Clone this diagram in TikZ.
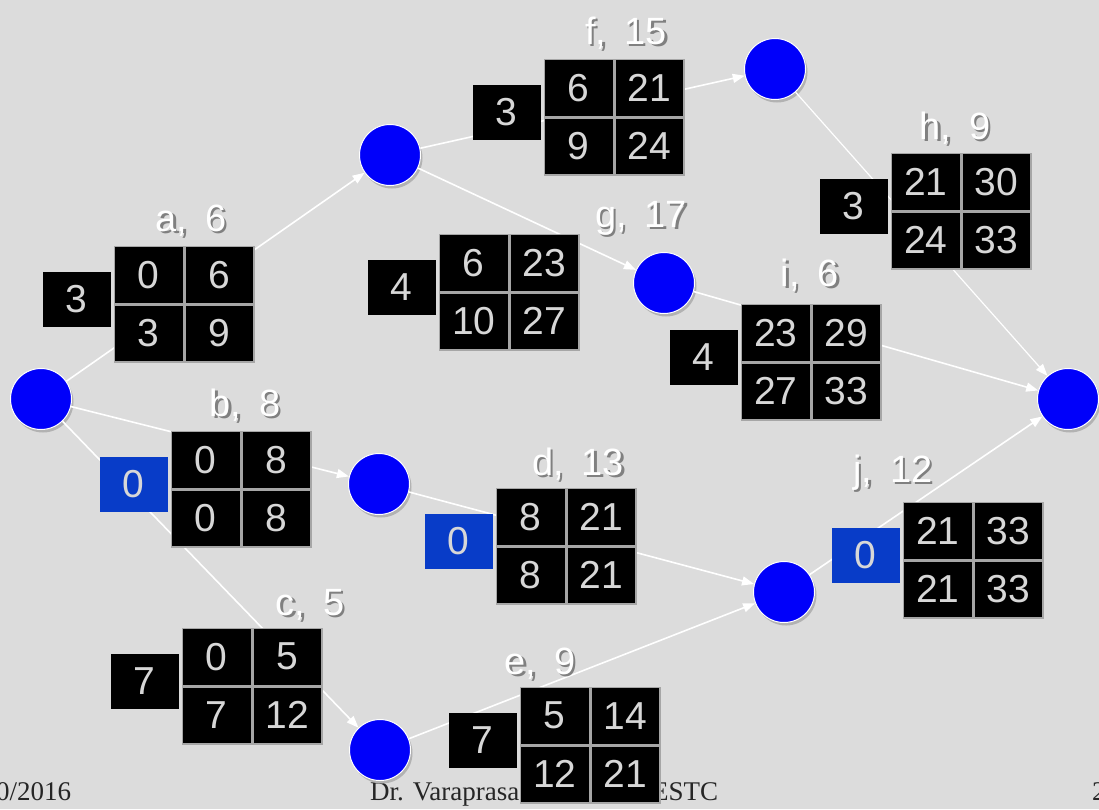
\documentclass[tikz,border=0pt]{standalone}
\usepackage{fontspec}
\setmainfont{Liberation Serif}
\newfontfamily\helv{Liberation Sans}
\newfontfamily\helvlab[WordSpace=1.7]{Liberation Sans}
\usetikzlibrary{arrows.meta,positioning,shadows}
\definecolor{bgray}{RGB}{220,220,220}
\definecolor{nodeblue}{RGB}{0,0,250}
\definecolor{slackblue}{RGB}{8,60,200}
\definecolor{digit}{RGB}{215,215,215}
\tikzset{
  event/.style={circle, fill=nodeblue, draw=white, line width=1pt, minimum size=61pt, inner sep=0pt,
    drop shadow={shadow xshift=2pt, shadow yshift=-3pt, fill=black!30, opacity=1}},
  edge/.style={draw=white, line width=1.6pt, -{Triangle[width=9pt,length=12pt]}},
  cell/.style={fill=black, draw=gray!70, line width=1.5pt, minimum width=69pt, minimum height=57pt,
    inner sep=0pt, text=digit, font=\helv\fontsize{39}{40}\selectfont},
  slackbox/.style={cell, draw=none, minimum width=68pt, minimum height=55pt},
  actlabel/.style={text=white, font=\helvlab\fontsize{38}{40}\selectfont, inner sep=0pt, anchor=base},
  footer/.style={text=black!85, font=\fontsize{27}{28}\selectfont, inner sep=0pt, anchor=base west},
}
\begin{document}
\begin{tikzpicture}[x=1pt, y=-1pt]
  \fill[bgray] (0,0) rectangle (1099,809);
  \useasboundingbox (0,0) rectangle (1099,809);
  % footer
  \node[footer] (date) at (-4,800) {0/2016};
  \node[footer] (author) at (370,800) {Dr. Varaprasad};
  \node[footer] (place) at (652,800) {ESTC};
  \node[footer] (page) at (1092,800) {2};
  % events
  \node[event] (n1) at (41,399) {};
  \node[event] (n2) at (390,155) {};
  \node[event] (n3) at (775,69) {};
  \node[event] (n4) at (664,283) {};
  \node[event] (n5) at (379,484) {};
  \node[event] (n6) at (784,592) {};
  \node[event] (n7) at (380,750) {};
  \node[event] (n8) at (1068,399) {};
  % activities
  \draw[edge] (n1) -- (n2);
  \draw[edge] (n1) -- (n5);
  \draw[edge] (n1) -- (n7);
  \draw[edge] (n2) -- (n3);
  \draw[edge] (n2) -- (n4);
  \draw[edge, line width=1.2pt] (n3) -- (n8);
  \draw[edge] (n4) -- (n8);
  \draw[edge] (n5) -- (n6);
  \draw[edge] (n7) -- (n6);
  \draw[edge] (n6) -- (n8);
  % boxes: name/x/y/label/label x/label y/slack/ES/EF/LS/LF/colour
  \foreach \n/\x/\y/\lab/\lx/\ly/\sl/\es/\ef/\ls/\lf/\col in {
      a/184/304/{a, 6}/191/231/3/0/6/3/9/black,
      b/241/489/{b, 8}/245/416/0/0/8/0/8/slackblue,
      c/252/686/{c, 5}/310/615/7/0/5/7/12/black,
      d/566/546/{d, 13}/578/475/0/8/21/8/21/slackblue,
      e/590/745/{e, 9}/540/674/7/5/14/12/21/black,
      f/614/117/{f, 15}/626/44/3/6/21/9/24/black,
      g/509/292/{g, 17}/641/227/4/6/23/10/27/black,
      h/961/211/{h, 9}/955/139/3/21/30/24/33/black,
      i/811/362/{i, 6}/810/286/4/23/29/27/33/black,
      j/973/560/{j, 12}/893/482/0/21/33/21/33/slackblue} {
    \node[cell, anchor=south east] (\n-es) at (\x,\y) {\es};
    \node[cell, anchor=south west] (\n-ef) at (\x,\y) {\ef};
    \node[cell, anchor=north east] (\n-ls) at (\x,\y) {\ls};
    \node[cell, anchor=north west] (\n-lf) at (\x,\y) {\lf};
    \node[slackbox, fill=\col, anchor=east] (\n-sl) at ([xshift=-2pt,yshift=5pt]\n-es.south west) {\sl};
    \node[actlabel, text=black!50] at ([xshift=2.5pt,yshift=-2.5pt]\lx,\ly) {\lab};
    \node[actlabel] (\n-lab) at (\lx,\ly) {\lab};
  }
\end{tikzpicture}
\end{document}
